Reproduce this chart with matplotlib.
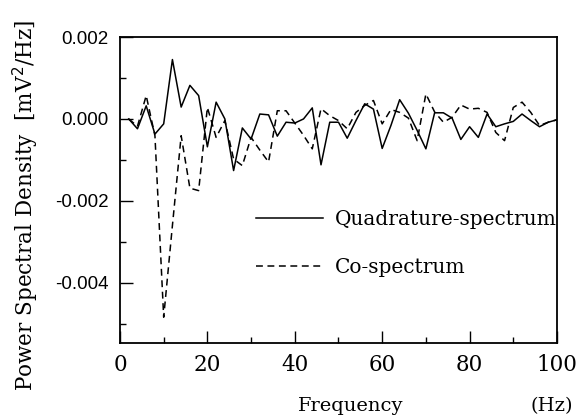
import matplotlib
matplotlib.use("Agg")
import matplotlib.pyplot as plt
from matplotlib.ticker import MultipleLocator

# frequency grid (Hz)
freq = [2, 4, 6, 8, 10, 12, 14, 16, 18, 20,
        22, 24, 26, 28, 30, 32, 34, 36, 38, 40,
        42, 44, 46, 48, 50, 52, 54, 56, 58, 60,
        62, 64, 66, 68, 70, 72, 74, 76, 78, 80,
        82, 84, 86, 88, 90, 92, 94, 96, 98, 100]

# quadrature spectrum, in 1e-3 mV^2/Hz
quad = [0.00, -0.24, 0.32, -0.37, -0.12, 1.45, 0.29, 0.82, 0.57, -0.68,
        0.41, 0.00, -1.26, -0.22, -0.49, 0.12, 0.10, -0.42, -0.08, -0.10,
        0.00, 0.27, -1.12, -0.08, -0.08, -0.47, -0.04, 0.37, 0.24, -0.72,
        -0.16, 0.47, 0.14, -0.28, -0.73, 0.15, 0.15, 0.02, -0.50, -0.19,
        -0.45, 0.12, -0.19, -0.12, -0.06, 0.12, -0.04, -0.19, -0.08, -0.02]

# co-spectrum, in 1e-3 mV^2/Hz
co = [0.00, -0.18, 0.57, -0.41, -4.84, -2.60, -0.41, -1.69, -1.75, 0.28,
      -0.45, -0.04, -0.98, -1.14, -0.45, -0.76, -1.05, 0.20, 0.20, -0.10,
      -0.40, -0.73, 0.25, 0.08, -0.04, -0.24, 0.16, 0.33, 0.45, -0.12,
      0.23, 0.16, 0.02, -0.53, 0.61, 0.17, -0.08, 0.04, 0.34, 0.24,
      0.26, 0.16, -0.33, -0.53, 0.28, 0.41, 0.16, -0.16, -0.08, -0.02]

quad = [v * 1e-3 for v in quad]
co = [v * 1e-3 for v in co]

serif = "DejaVu Serif"

fig = plt.figure(figsize=(5.76, 4.16), dpi=100)
ax = fig.add_axes([0.2083, 0.1755, 0.7587, 0.7355])

ax.plot(freq, quad, color="black", lw=1.1, label="Quadrature-spectrum")
ax.plot(freq, co, color="black", lw=1.1, dashes=(4.5, 3), label="Co-spectrum")

ax.set_xlim(0, 100)
ax.set_ylim(-0.00547, 0.002)

ax.xaxis.set_major_locator(MultipleLocator(20))
ax.xaxis.set_minor_locator(MultipleLocator(10))
ax.yaxis.set_major_locator(MultipleLocator(0.002))
ax.yaxis.set_minor_locator(MultipleLocator(0.001))
ax.set_yticks([0.002, 0.0, -0.002, -0.004])
ax.set_yticklabels(["0.002", "0.000", "-0.002", "-0.004"],
                   family="Liberation Sans", fontsize=13.5)
ax.set_xticks([0, 20, 40, 60, 80, 100])
ax.set_xticklabels(["0", "20", "40", "60", "80", "100"],
                   family=serif, fontsize=15.5)

ax.tick_params(which="both", direction="in", top=False, right=False)
ax.tick_params(which="major", length=9, width=1.0)
ax.tick_params(which="minor", length=4.5, width=1.0)
ax.tick_params(axis="y", pad=8)
ax.tick_params(axis="x", pad=8)
for s in ax.spines.values():
    s.set_linewidth(1.3)

leg = ax.legend(loc="upper left", bbox_to_anchor=(0.27, 0.495), frameon=False,
                prop={"family": serif, "size": 14.5}, handlelength=3.3,
                handletextpad=0.6, labelspacing=1.45)

fig.text(0.608, 0.012, "Frequency", family=serif, fontsize=14, ha="center")
fig.text(0.995, 0.012, "(Hz)", family=serif, fontsize=14, ha="right")
fig.text(0.045, 0.505, "Power Spectral Density  [mV$^2$/Hz]", family=serif,
         fontsize=15.5, rotation=90, ha="center", va="center")

fig.savefig("out.png", dpi=100)
